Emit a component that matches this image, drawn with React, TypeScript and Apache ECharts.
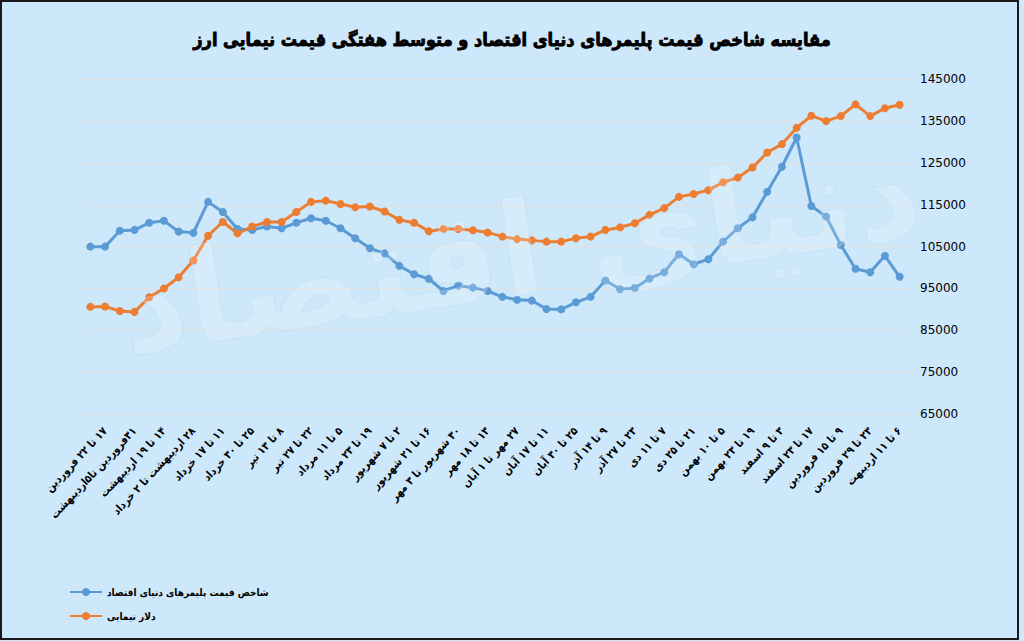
import React, { useEffect, useRef } from "react";
import * as echarts from "echarts";

const categories: string[] = [
  "", "۱۷ تا ۲۲ فروردین",
  "", "۳۱فروردین تا۵اردیبهشت",
  "", "۱۴ تا ۱۹ اردیبهشت",
  "", "۲۸ اردیبهشت تا ۲ خرداد",
  "", "۱۱ تا ۱۷ خرداد",
  "", "۲۵ تا ۳۰ خرداد",
  "", "۸ تا ۱۳ تیر",
  "", "۲۲ تا ۲۷ تیر",
  "", "۵ تا ۱۱ مرداد",
  "", "۱۹ تا ۲۳ مرداد",
  "", "۲ تا ۷ شهریور",
  "", "۱۶ تا ۲۱ شهریور",
  "", "۳۰ شهریور تا ۳ مهر",
  "", "۱۳ تا ۱۸ مهر",
  "", "۲۷ مهر تا ۱ آبان",
  "", "۱۱ تا ۱۷ آبان",
  "", "۲۵ تا ۳۰ آبان",
  "", "۹ تا ۱۴ آذر",
  "", "۲۳ تا ۲۷ آذر",
  "", "۷ تا ۱۱ دی",
  "", "۲۱ تا ۲۵ دی",
  "", "۵ تا ۱۰ بهمن",
  "", "۱۹ تا ۲۳ بهمن",
  "", "۳ تا ۹ اسفند",
  "", "۱۷ تا ۲۳ اسفند",
  "", "۹ تا ۱۵ فروردین",
  "", "۲۳ تا ۲۹ فروردین",
  "", "۶ تا ۱۱ اردیبهت",
];

const polymerIndex: number[] = [
  105000, 105000, 108800, 109000, 110700, 111200, 108600, 108300, 115700, 113300,
  109200, 109000, 109800, 109400, 110700, 111800, 111200, 109400, 107000, 104600,
  103400, 100400, 98400, 97300, 94400, 95700, 95200, 94400, 93000, 92300,
  92100, 90100, 90000, 91700, 93000, 96900, 94800, 95100, 97400, 98900,
  103200, 100800, 102000, 106200, 109400, 112000, 118100, 124100, 131100, 114700,
  112200, 105400, 99700, 98900, 102800, 97800,
];

const nimaDollar: number[] = [
  90600, 90700, 89600, 89400, 92900, 95000, 97700, 101700, 107600, 110900,
  108200, 109800, 110900, 110900, 113300, 115700, 116000, 115200, 114400, 114600,
  113400, 111400, 110700, 108700, 109200, 109200, 108900, 108400, 107400, 106800,
  106500, 106200, 106200, 107000, 107400, 109000, 109600, 110600, 112600, 114200,
  116900, 117600, 118500, 120400, 121500, 123900, 127500, 129500, 133400, 136300,
  135000, 136200, 139000, 136200, 138100, 138900,
];

const yMin = 65000;
const yMax = 145000;
const yStep = 10000;

const titleText = "مقایسه شاخص قیمت پلیمرهای دنیای اقتصاد و متوسط هفتگی قیمت نیمایی ارز";
const seriesNames = ["شاخص قیمت پلیمرهای دنیای اقتصاد", "دلار نیمایی"];
const watermarkText = "دنیای اقتصاد";

const FONT = "DejaVu Sans Condensed, DejaVu Sans";
const rtl = (s: string) => (s ? "\u202B" + s + "\u202C" : s);

export default function App() {
  const ref = useRef<HTMLDivElement>(null);

  useEffect(() => {
    document.body.style.margin = "0";
    if (!ref.current) return;
    const chart = echarts.init(ref.current, undefined, { renderer: "svg" });
    const steps = (yMax - yMin) / yStep;
    chart.setOption({
      animation: false,
      backgroundColor: "#cde8fb",
      title: {
        text: titleText,
        left: "center",
        top: 25,
        textStyle: {
          fontFamily: FONT,
          fontSize: 18,
          fontWeight: 900,
          color: "#000",
          textBorderColor: "#000",
          textBorderWidth: 0.8,
        },
      },
      legend: {
        orient: "vertical",
        left: 64,
        top: 582,
        itemWidth: 32,
        itemHeight: 10,
        itemGap: 14,
        data: seriesNames,
        textStyle: { fontFamily: FONT, fontSize: 10, fontWeight: "bold", color: "#000" },
      },
      grid: { left: 83, right: 117, top: 79.3, bottom: 227, containLabel: false },
      xAxis: {
        type: "category",
        data: categories,
        boundaryGap: true,
        axisLine: { show: false },
        axisTick: { show: false },
        axisLabel: {
          interval: (i: number) => i % 2 === 1,
          rotate: 47,
          margin: 15,
          fontFamily: FONT,
          fontSize: 11,
          fontWeight: "bold",
          color: "#000",
          formatter: (v: string) => rtl(v),
        },
      },
      yAxis: [
        {
          type: "value",
          min: yMin,
          max: yMax,
          show: false,
          splitLine: { show: false },
        },
        {
          type: "value",
          position: "right",
          min: 0,
          max: steps,
          interval: 1,
          axisLine: { show: false },
          axisTick: { show: false },
          axisLabel: {
            margin: 13,
            fontFamily: "DejaVu Sans",
            fontSize: 12,
            color: "#000",
            formatter: (v: number) => String(yMin + v * yStep),
          },
          splitLine: { show: true, lineStyle: { color: "#e3e1dd", width: 1 } },
        },
      ],
      series: [
        {
          name: seriesNames[0],
          type: "line",
          yAxisIndex: 0,
          data: polymerIndex,
          symbol: "circle",
          symbolSize: 8,
          itemStyle: { color: "#5b9bd5" },
          lineStyle: { color: "#5b9bd5", width: 3 },
        },
        {
          name: seriesNames[1],
          type: "line",
          yAxisIndex: 0,
          data: nimaDollar,
          symbol: "circle",
          symbolSize: 8,
          itemStyle: { color: "#ed7d31" },
          lineStyle: { color: "#ed7d31", width: 3 },
        },
      ],
      graphic: [
        {
          type: "text",
          x: 520,
          y: 250,
          rotation: 0.15,
          silent: true,
          z: 50,
          style: {
            text: watermarkText,
            font: "bold 130px 'DejaVu Sans'",
            fill: "rgba(255,255,255,0.18)",
            stroke: "rgba(185,215,238,0.3)",
            lineWidth: 1.5,
            align: "center",
            verticalAlign: "middle",
          },
        },
        {
          type: "rect",
          shape: { x: 1, y: 1, width: 1017, height: 638 },
          style: { fill: "none", stroke: "#1a1a1a", lineWidth: 2 },
          silent: true,
          z: 100,
        },
      ],
    });
    return () => chart.dispose();
  }, []);

  return <div ref={ref} style={{ width: 1024, height: 641 }} />;
}
